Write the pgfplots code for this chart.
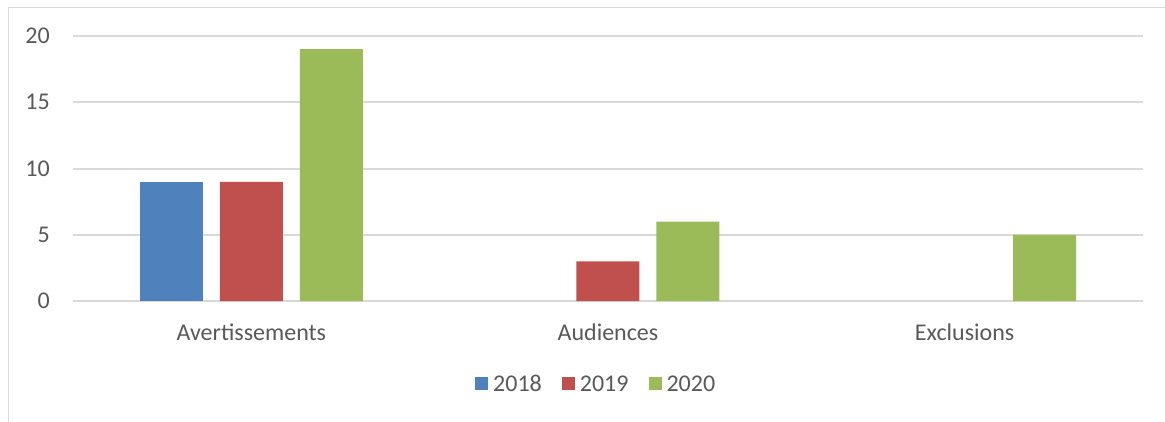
\documentclass[border=0pt]{standalone}
\usepackage{fontspec}
\setmainfont{Carlito}
\usepackage{pgfplots}
\pgfplotsset{compat=1.18}

\definecolor{c18}{HTML}{4F81BD}
\definecolor{c19}{HTML}{C0504D}
\definecolor{c20}{HTML}{9BBB59}
\definecolor{gridc}{HTML}{D9D9D9}
\definecolor{txt}{HTML}{595959}

\newcommand{\chartfont}{\fontsize{24}{28}\selectfont}

\begin{document}
\begin{tikzpicture}
  \useasboundingbox (0,0) rectangle (1165pt,421pt);
  % chart frame
  \draw[gridc, line width=1.5pt] (8.5pt,413.5pt) rectangle (1185pt,-10pt);
  \begin{axis}[
      at={(73pt,120pt)}, anchor=south west,
      scale only axis,
      width=1070pt, height=265pt,
      ybar=17pt, bar width=63pt,
      xmin=-0.5, xmax=2.5,
      ymin=0, ymax=20,
      ytick={0,5,10,15,20},
      xtick={0,1,2},
      xticklabels={Avertissements,Audiences,Exclusions},
      axis line style={draw=none},
      major tick length=0pt,
      ymajorgrids,
      major grid style={gridc, line width=2pt},
      /pgf/number format/assume math mode=true,
      tick label style={font=\chartfont, text=txt, inner sep=0pt},
      yticklabel style={anchor=east, xshift=-23pt},
      xticklabel style={anchor=north, yshift=-23pt},
      legend columns=-1,
      legend style={at={(0.3757,-0.315)}, anchor=west, draw=none, fill=none,
        inner sep=0pt, column sep=5pt, font=\chartfont, text=txt,
        nodes={inner sep=0pt}},
      legend image code/.code={\fill[#1] (0pt,-6pt) rectangle (13pt,7pt);},
    ]
    % 2018: Audiences = 0, Exclusions = 0
    \addplot[fill=c18, draw=none] coordinates {(0,9)};
    \addlegendentry{2018\rule{15pt}{0pt}}
    % 2019: Exclusions = 0
    \addplot[fill=c19, draw=none] coordinates {(0,9) (1,3)};
    \addlegendentry{2019\rule{15pt}{0pt}}
    \addplot[fill=c20, draw=none] coordinates {(0,19) (1,6) (2,5)};
    \addlegendentry{2020}
  \end{axis}
\end{tikzpicture}
\end{document}
